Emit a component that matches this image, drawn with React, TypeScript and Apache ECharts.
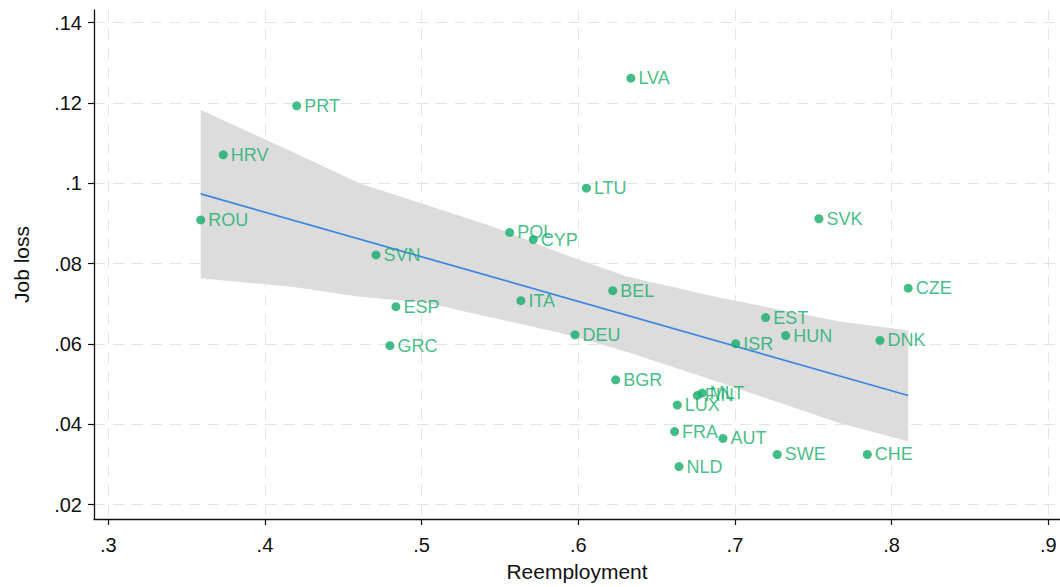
import React, { useEffect, useRef } from "react";
import * as echarts from "echarts";

const countries = ["PRT","HRV","ROU","LVA","LTU","POL","CYP","SVK","SVN","CZE","ESP","ITA","BEL","EST","HUN","DNK","ISR","DEU","GRC","BGR","FIN","MLT","LUX","FRA","AUT","NLD","SWE","CHE"];
const reemployment = [0.4203,0.3734,0.3590,0.6336,0.6052,0.5562,0.5713,0.7536,0.4709,0.8106,0.4836,0.5634,0.6220,0.7196,0.7324,0.7926,0.7005,0.5979,0.4798,0.6239,0.6760,0.6791,0.6632,0.6615,0.6924,0.6643,0.7270,0.7845];
const jobLoss = [0.1193,0.1071,0.0909,0.1262,0.0988,0.0878,0.0860,0.0912,0.0822,0.0739,0.0693,0.0708,0.0733,0.0666,0.0621,0.0609,0.0601,0.0623,0.0596,0.0511,0.0472,0.0478,0.0448,0.0382,0.0365,0.0295,0.0325,0.0325];

// fitted line endpoints
const fitX = [0.359, 0.8106];
const fitY = [0.0974, 0.0472];

// confidence band
const bandX = [0.359, 0.416, 0.4607, 0.5032, 0.5457, 0.5883, 0.6309, 0.6904, 0.767, 0.8106];
const bandUpper = [0.1183, 0.1081, 0.1, 0.0946, 0.0892, 0.0827, 0.0768, 0.0715, 0.0656, 0.0634];
const bandLower = [0.0764, 0.0743, 0.0718, 0.0703, 0.0665, 0.0628, 0.0581, 0.0504, 0.0403, 0.0358];

const xTicks = [0.3, 0.4, 0.5, 0.6, 0.7, 0.8, 0.9];
const yTicks = [0.02, 0.04, 0.06, 0.08, 0.1, 0.12, 0.14];

const GREEN = "#14ad69";
const FONT = "Liberation Sans, Arial, sans-serif";

const fmt = (v: number) => parseFloat(Number(v).toFixed(4)).toString().replace(/^0\./, ".");

export default function App() {
  const ref = useRef<HTMLDivElement>(null);
  useEffect(() => {
    document.body.style.margin = "0";
    if (!ref.current) return;
    const chart = echarts.init(ref.current, null, { renderer: "svg" });
    const axisCommon = {
      axisLine: { show: true, onZero: false, lineStyle: { color: "#111", width: 1.3 } },
      axisTick: { show: true, length: 6, lineStyle: { color: "#111", width: 1.2 } },
      splitLine: { show: true, lineStyle: { color: "#e4e4e4", width: 1, type: [11, 8] } },
    };
    chart.setOption({
      animation: false,
      backgroundColor: "#fff",
      grid: { left: 94, top: 10, right: 0, bottom: 68, containLabel: false, outerBoundsMode: "none" },
      xAxis: {
        type: "value",
        min: 0.2909,
        max: 0.9075,
        name: "Reemployment",
        nameLocation: "middle",
        nameGap: 42,
        nameTextStyle: { color: "#111", fontSize: 21, fontFamily: FONT },
        ...axisCommon,
        axisTick: { ...axisCommon.axisTick, customValues: xTicks },
        axisLabel: { customValues: xTicks, formatter: fmt, color: "#111", fontSize: 20, fontFamily: FONT, margin: 16 },
      },
      yAxis: {
        type: "value",
        min: 0.01644,
        max: 0.14317,
        name: "Job loss",
        nameLocation: "middle",
        nameGap: 62,
        nameTextStyle: { color: "#111", fontSize: 21, fontFamily: FONT },
        ...axisCommon,
        axisTick: { ...axisCommon.axisTick, customValues: yTicks },
        axisLabel: { customValues: yTicks, formatter: fmt, color: "#111", fontSize: 20, fontFamily: FONT, margin: 12 },
      },
      series: [
        {
          type: "custom",
          silent: true,
          z: 1,
          clip: false,
          data: [[bandX[0], bandLower[0]]],
          renderItem: (_params: any, api: any) => {
            const pts: number[][] = [];
            for (let i = 0; i < bandX.length; i++) pts.push(api.coord([bandX[i], bandUpper[i]]));
            for (let i = bandX.length - 1; i >= 0; i--) pts.push(api.coord([bandX[i], bandLower[i]]));
            return { type: "polygon", shape: { points: pts }, style: { fill: "#dcdcdc", stroke: "none" } };
          },
        },
        {
          type: "line",
          z: 2,
          symbol: "none",
          silent: true,
          lineStyle: { color: "#3a86e0", width: 1.7 },
          data: fitX.map((x, i) => [x, fitY[i]]),
        },
        {
          type: "scatter",
          z: 3,
          symbol: "circle",
          symbolSize: 9,
          itemStyle: { color: GREEN },
          label: {
            show: true,
            position: "right",
            distance: 3,
            formatter: (p: any) => p.name,
            color: GREEN,
            fontSize: 18,
            fontFamily: FONT,
          },
          data: countries.map((c, i) => ({ name: c, value: [reemployment[i], jobLoss[i]] })),
        },
      ],
    });
    return () => chart.dispose();
  }, []);
  return <div ref={ref} style={{ width: 1060, height: 587 }} />;
}
